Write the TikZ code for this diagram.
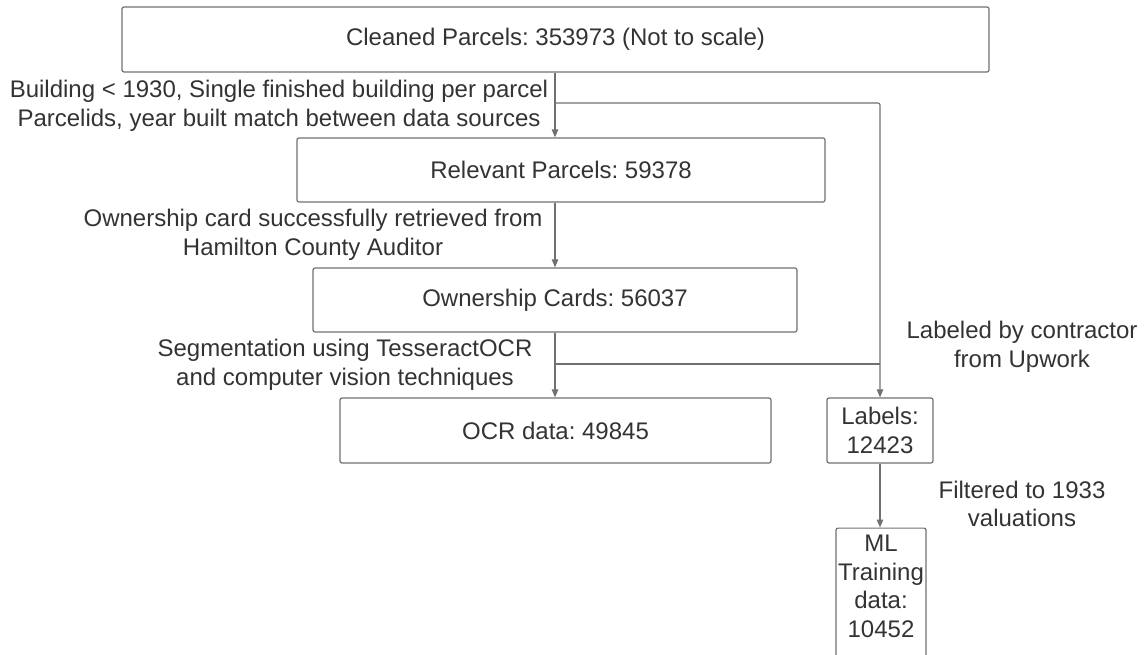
\documentclass[tikz,border=0pt]{standalone}
\usepackage{fontspec}
\setmainfont{Liberation Sans}
\usetikzlibrary{arrows.meta}
\definecolor{txt}{HTML}{333333}
\definecolor{edge}{HTML}{707070}
\frenchspacing
\begin{document}
\begin{tikzpicture}[x=1pt,y=-1pt,
  font=\fontsize{24}{28.5}\selectfont, text=txt,
  box/.style={draw=edge, line width=1.2pt, rounded corners=2pt, inner sep=0pt, align=center},
  note/.style={align=center, inner sep=0pt},
  link/.style={draw=edge, line width=1.1pt},
  arr/.style={link, -{Triangle[length=8pt,width=6.5pt]}}]
\useasboundingbox (0,0) rectangle (1145,655);
\clip (0,0) rectangle (1145,655);

% boxes
\node[box, minimum width=867, minimum height=65] (top) at (555.5,39.5) {Cleaned Parcels: 353973 (Not to scale)};
\node[box, minimum width=528, minimum height=64] (rel) at (561,170) {Relevant Parcels: 59378};
\node[box, minimum width=484, minimum height=64] (own) at (555,300) {Ownership Cards: 56037};
\node[box, minimum width=431, minimum height=65] (ocr) at (555.5,430.5) {OCR data: 49845};
\node[box, minimum width=106, minimum height=65] (lab) at (880,430.5) {Labels:\\12423};
\node[box, minimum width=90, minimum height=170, anchor=north] (ml) at (881,527.5) {};
\node[note, anchor=north] at (881,535) {ML\\Training\\data:\\10452};

% edge labels
\node[note] (n1) at (279,106) {Building < 1930, Single finished building per parcel\\Parcelids, year built match between data sources};
\node[note] (n2) at (313,235) {Ownership card successfully retrieved from\\Hamilton County Auditor};
\node[note] (n3) at (345,365) {Segmentation using TesseractOCR\\and computer vision techniques};
\node[note] (n4) at (1022,347) {Labeled by contractor\\from Upwork};
\node[note] (n5) at (1022,504) {Filtered to 1933\\valuations};

% connectors
\coordinate (j1) at (555,103);
\coordinate (j2) at (555,364);
\draw[arr] (top.south -| j1) -- (j1 |- rel.north);
\draw[arr, rounded corners=2pt] (j1) -- (j1 -| lab) -- (lab.north);
\draw[arr] (rel.south -| own) -- (own.north);
\draw[arr] (own.south -| j2) -- (j2 |- ocr.north);
\draw[link, rounded corners=2pt] (j2) -- (j2 -| lab);
\draw[arr] (lab.south) -- (lab.south |- ml.north);
\end{tikzpicture}
\end{document}
